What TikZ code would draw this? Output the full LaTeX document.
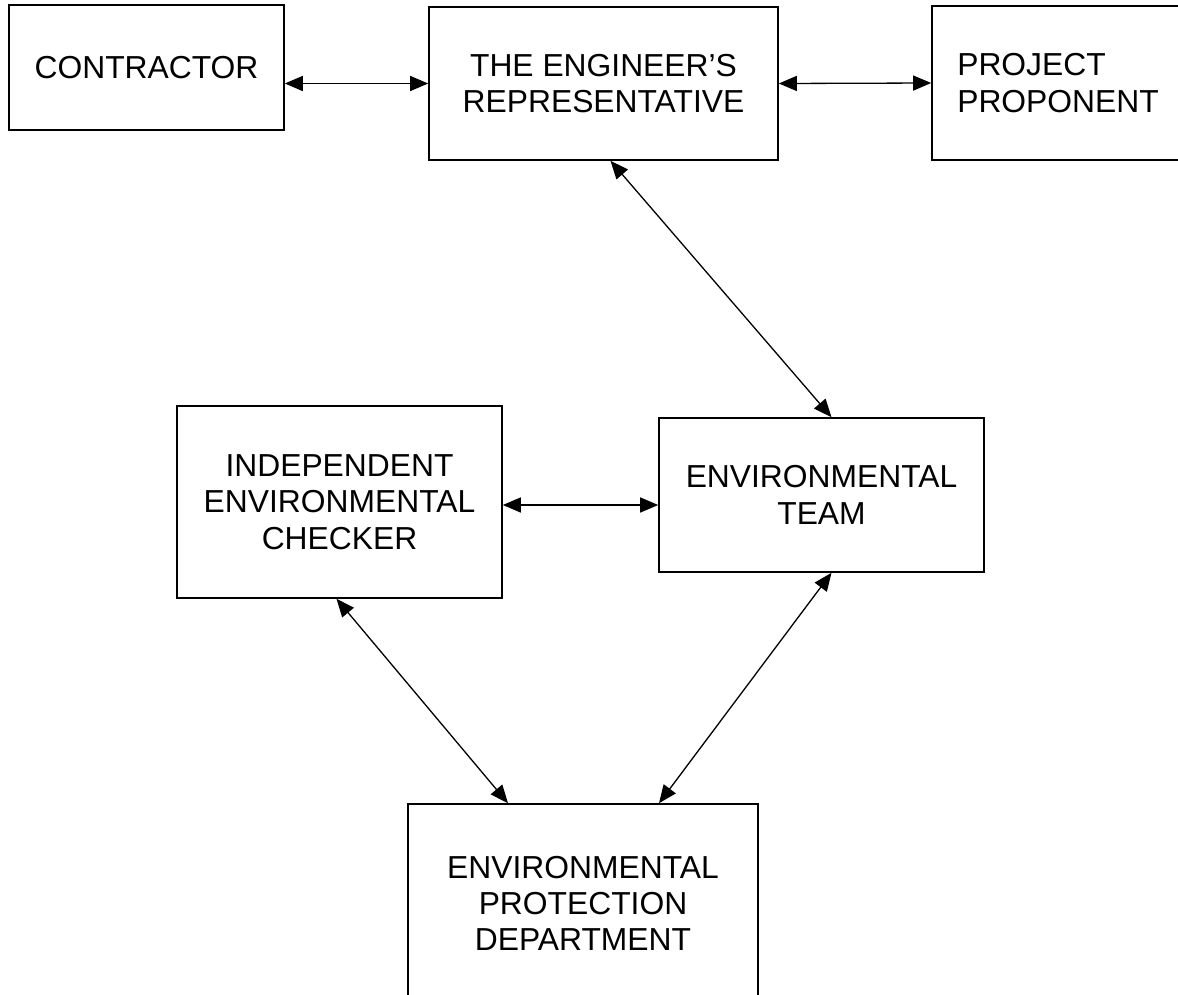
\documentclass[tikz,border=0pt]{standalone}
\usepackage{fontspec}
\setmainfont{Liberation Sans}
\usetikzlibrary{
  positioning,
  arrows.meta
}

\begin{document}
\begin{tikzpicture}[
  x=1pt, y=-1pt,
  every node/.style={font=\fontsize{31.8}{36.3}\selectfont, align=center, inner sep=0pt},
  orgbox/.style={
    rectangle, draw=black, line width=1.6pt, fill=white
  },
  arrow/.style={{Triangle[length=18pt,width=15pt]}-{Triangle[length=18pt,width=15pt]}, line width=1.3pt}
]
 % Canvas (same size as the reference page)
 \useasboundingbox (0,0) rectangle (1178,994);
 \clip (0,0) rectangle (1178,994);

 % Top row
 \node[orgbox, minimum width=275pt, minimum height=125pt] (con) at (146.5,67.5) {CONTRACTOR};
 \node[orgbox, minimum width=349pt, minimum height=153pt] (eng) at (603.5,83.5) {THE ENGINEER’S\\REPRESENTATIVE};
 \node[orgbox, minimum width=252pt, minimum height=154pt, align=left] (pp) at (1058,83) {PROJECT\\PROPONENT};

 % Middle row
 \node[orgbox, minimum width=325pt, minimum height=192pt] (iec) at (339.5,502) {INDEPENDENT\\ENVIRONMENTAL\\CHECKER};
 \node[orgbox, minimum width=325pt, minimum height=154pt] (et) at (821.5,495) {ENVIRONMENTAL\\TEAM};

 % Bottom
 \node[orgbox, minimum width=350pt, minimum height=199pt] (epd) at (583,903.5) {ENVIRONMENTAL\\PROTECTION\\DEPARTMENT};

 % Connectors
 \draw[arrow] (con.east |- eng.west) -- (eng.west);
 \draw[arrow] (eng.east) -- (pp.west);
 \draw[arrow] ([xshift=7pt]eng.south) -- ([xshift=10pt]et.north);
 \draw[arrow] ([yshift=-3pt]iec.east) -- ([yshift=-3pt]iec.east -| et.west);
 \draw[arrow] ([xshift=-3pt]iec.south) -- ([xshift=-75pt]epd.north);
 \draw[arrow] ([xshift=10pt]et.south) -- ([xshift=76pt]epd.north);
\end{tikzpicture}
\end{document}
